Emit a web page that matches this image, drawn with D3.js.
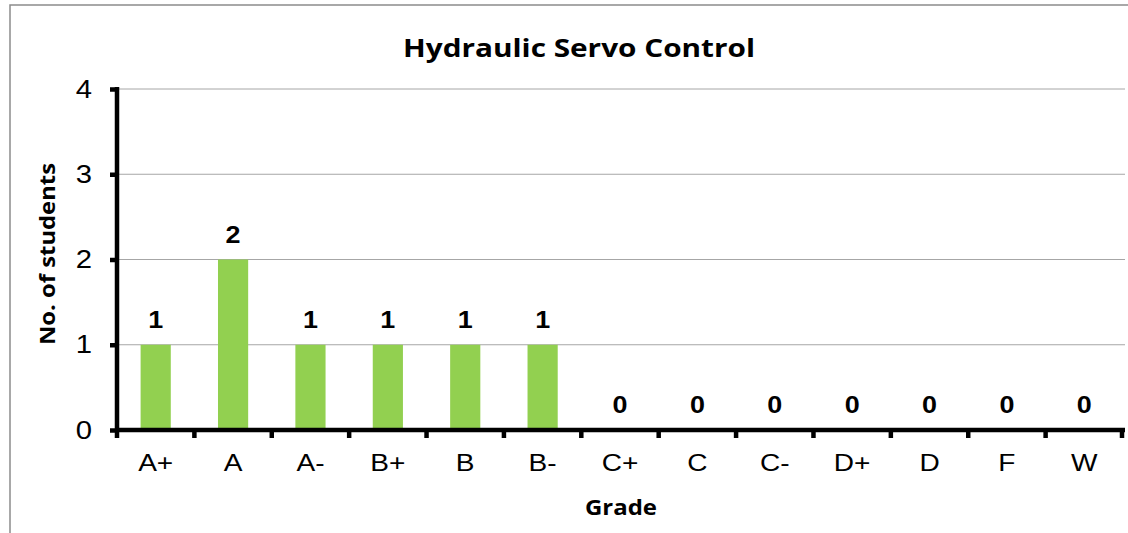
<!DOCTYPE html>
<html>
<head>
<meta charset="utf-8">
<script src="https://cdn.jsdelivr.net/npm/d3@7"></script>
<style>
  body { margin: 0; background: #fff; }
  svg { display: block; }
  .tickLbl { font-family: "Liberation Sans", Arial, sans-serif; }
  .valLbl { font-family: "Liberation Sans", Arial, sans-serif; font-weight: bold; }
  .calib { font-family: "Open Sans", "Noto Sans", sans-serif; font-weight: bold; }
</style>
</head>
<body>
<svg class="GradeChart" width="1128" height="533"></svg>
<script>
// chart data
const grades = ["A+", "A", "A-", "B+", "B", "B-", "C+", "C", "C-", "D+", "D", "F", "W"];
const students = [1, 2, 1, 1, 1, 1, 0, 0, 0, 0, 0, 0, 0];
const yTicks = [0, 1, 2, 3, 4];

// the original picture is a bit wider than tall, text looks stretched
const stretch = 1.17;

function renderGradeChart()
{
    const svg = d3.select(".GradeChart");
    const margin = { 'top': 89, 'left': 117, 'right': 5, 'bottom': 103 };
    const width = 1123 - margin.left;
    const height = 430 - margin.top;

    // outer frame (top + left only visible)
    svg.append('path')
        .attr('d', 'M10,533 L10,5 L1128,5')
        .attr('fill', 'none')
        .attr('stroke', '#8c8c8c')
        .attr('stroke-width', 1.5);

    svg.append('text')
        .attr('class', 'calib')
        .attr('x', 579)
        .attr('y', 57)
        .attr('text-anchor', 'middle')
        .attr('font-size', 25)
        .attr('textLength', 352)
        .attr('lengthAdjust', 'spacingAndGlyphs')
        .text("Hydraulic Servo Control");

    const g = svg.append('g')
        .attr('transform', `translate(${margin.left}, ${margin.top})`);

    const xScale = d3.scaleBand()
        .range([0, width])
        .domain(grades)
        .paddingInner(0.61)
        .paddingOuter(0.305);

    const yScale = d3.scaleLinear()
        .range([height, 0])
        .domain([0, 4]);

    // gridlines
    g.append('g')
        .selectAll('line')
        .data(yTicks.filter(d => d > 0))
        .enter()
        .append('line')
        .attr('x1', 0)
        .attr('x2', width + 2)
        .attr('y1', d => yScale(d))
        .attr('y2', d => yScale(d))
        .attr('stroke', '#a6a6a6')
        .attr('stroke-width', 1);

    const state = grades.map((k, i) => ({ key: k, value: students[i] }));

    // bars
    g.selectAll('rect.bar')
        .data(state)
        .enter()
        .append('rect')
        .attr('class', 'bar')
        .attr('x', d => xScale(d.key))
        .attr('y', d => yScale(d.value))
        .attr('width', xScale.bandwidth())
        .attr('height', d => yScale(0) - yScale(d.value))
        .attr('fill', '#92d050');

    // value labels
    g.selectAll('.valLbl')
        .data(state)
        .enter()
        .append('text')
        .attr('class', 'valLbl')
        .attr('transform', d => `translate(${xScale(d.key) + xScale.bandwidth() / 2}, ${yScale(d.value) - 17}) scale(${stretch},1)`)
        .attr('text-anchor', 'middle')
        .attr('font-size', 23)
        .text(d => d.value);

    // y axis
    const yAxis = g.append('g')
        .call(d3.axisLeft(yScale).tickValues(yTicks).tickSize(7).tickPadding(18).tickFormat(d3.format('d')));
    yAxis.select('.domain')
        .attr('d', `M0,${height + 2}V-2`)
        .attr('stroke', '#000')
        .attr('stroke-width', 4.5);
    yAxis.selectAll('.tick line')
        .attr('stroke', '#000')
        .attr('stroke-width', 4.5)
        .attr('x1', -1);
    yAxis.selectAll('.tick text')
        .attr('class', 'tickLbl')
        .attr('font-size', 25)
        .attr('x', -25 / stretch)
        .attr('transform', `scale(${stretch},1)`)
        .attr('fill', '#000');

    // x axis
    const xAxis = g.append('g')
        .attr('transform', `translate(0, ${height})`)
        .call(d3.axisBottom(xScale).tickSize(0).tickPadding(24));
    xAxis.select('.domain')
        .attr('d', `M-2,0H${width + 2}`)
        .attr('stroke', '#000')
        .attr('stroke-width', 4.5);
    xAxis.selectAll('.tick text')
        .attr('class', 'tickLbl')
        .attr('font-size', 24)
        .attr('transform', `scale(${stretch},1)`)
        .attr('fill', '#000');

    // category boundary ticks
    const step = xScale.step();
    xAxis.append('g')
        .selectAll('line')
        .data(d3.range(grades.length + 1))
        .enter()
        .append('line')
        .attr('x1', d => Math.min(d * step, width - 1))
        .attr('x2', d => Math.min(d * step, width - 1))
        .attr('y1', 0)
        .attr('y2', 8)
        .attr('stroke', '#000')
        .attr('stroke-width', 4.5);

    svg.append('text')
        .attr('class', 'calib')
        .attr('x', 621)
        .attr('y', 515)
        .attr('text-anchor', 'middle')
        .attr('font-size', 22)
        .attr('textLength', 72)
        .attr('lengthAdjust', 'spacingAndGlyphs')
        .text("Grade");

    svg.append('text')
        .attr('class', 'calib')
        .attr('transform', 'translate(55, 254) rotate(-90)')
        .attr('text-anchor', 'middle')
        .attr('font-size', 22)
        .attr('textLength', 182)
        .attr('lengthAdjust', 'spacingAndGlyphs')
        .text("No. of students");
}

renderGradeChart();
</script>
</body>
</html>
